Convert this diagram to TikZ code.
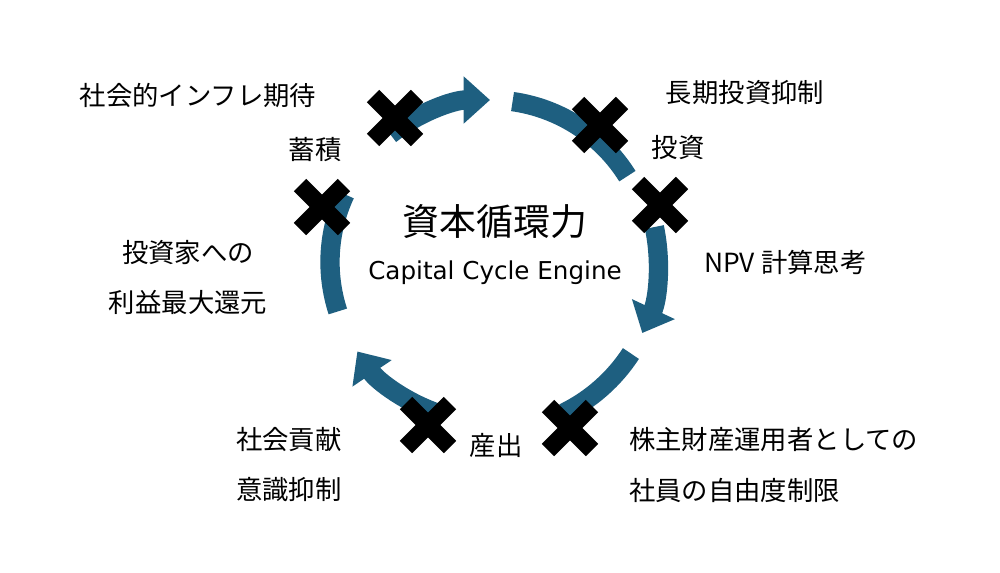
\documentclass[tikz,border=0pt]{standalone}
\usepackage{fontspec}
\newfontfamily\jp{Noto Sans CJK JP}
\newfontfamily\lat{DejaVu Sans}
\usetikzlibrary{arrows.meta}
\definecolor{cycleblue}{HTML}{1E5F80}
\tikzset{
  lbl/.style={font=\jp\fontsize{15}{17}\selectfont},
  cyc/.style={cycleblue, line width=11pt},
  cychead/.style={cyc, -{Triangle[width=26pt,length=15pt]}},
  cross/.style={line width=10pt, black},
}
\begin{document}
\begin{tikzpicture}[x=0.02cm,y=-0.02cm]
\useasboundingbox (0,0) rectangle (1000,572);
\coordinate (C) at (490,262);

% cycle arrows (angles negated: y runs downward)
\draw[cychead] ([shift={(-128:162)}]C) arc[start angle=-128, end angle=-90, radius=162];
\draw[cyc] ([shift={(-82:162)}]C) arc[start angle=-82, end angle=-32, radius=162];
\draw[cychead] ([shift={(-12:168)}]C) arc[start angle=-12, end angle=25, radius=168];
\draw[cyc] ([shift={(33:168)}]C) arc[start angle=33, end angle=64, radius=168];
\draw[cychead] ([shift={(108:160)}]C) arc[start angle=108, end angle=146, radius=160];
\draw[cyc] ([shift={(162:160)}]C) arc[start angle=162, end angle=205, radius=160];

% crosses
\foreach \name/\px/\py in {xa/395/118, xb/600/125, xc/660/205, xd/322/207, xe/428/425, xf/570/428} {
  \coordinate (\name) at (\px,\py);
  \draw[cross] ([shift={(-22,-22)}]\name) -- ([shift={(22,22)}]\name);
  \draw[cross] ([shift={(-22,22)}]\name) -- ([shift={(22,-22)}]\name);
}

% centre
\node[font=\jp\fontsize{21}{24}\selectfont] (title) at (495,222) {資本循環力};
\node[font=\lat\fontsize{14}{16}\selectfont] (sub) at (495,273) {Capital Cycle Engine};

% labels
\node[lbl] (inflation) at (198,95) {社会的インフレ期待};
\node[lbl] (accum) at (315,150) {蓄積};
\node[lbl] (longterm) at (745,93) {長期投資抑制};
\node[lbl] (invest) at (678,148) {投資};
\node[lbl, anchor=west] (npv) at (698,262) {NPV 計算思考};
\node[lbl] (investor) at (188,253) {投資家への};
\node[lbl] (profit) at (188,302) {利益最大還元};
\node[lbl, anchor=west] (social) at (230,440) {社会貢献};
\node[lbl, anchor=west] (aware) at (230,490) {意識抑制};
\node[lbl] (output) at (496,445) {産出};
\node[lbl, anchor=west] (holder) at (623,440) {株主財産運用者としての};
\node[lbl, anchor=west] (staff) at (623,490) {社員の自由度制限};
\end{tikzpicture}
\end{document}
